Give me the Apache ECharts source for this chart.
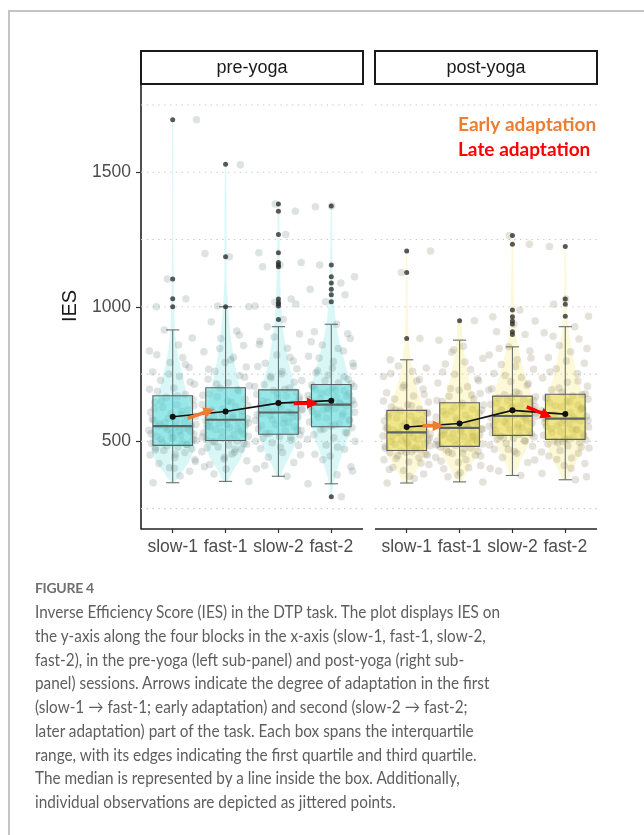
<!DOCTYPE html>
<html><head><meta charset="utf-8">
<script src="https://cdn.jsdelivr.net/npm/echarts@6/dist/echarts.min.js"></script>
<style>
html,body{margin:0;padding:0;background:#fff;width:644px;height:835px;overflow:hidden;}
#frame{position:absolute;left:8px;top:10px;width:636px;height:825px;border-left:2px solid #c4c4c4;border-top:2px solid #c4c4c4;box-sizing:border-box;}
#chart{position:absolute;left:0;top:0;width:644px;height:565px;}
#cap{position:absolute;left:35px;top:0;width:600px;height:835px;pointer-events:none;}
.capline{position:absolute;left:0;white-space:nowrap;font-family:Lato,"Open Sans",sans-serif;font-size:17.5px;line-height:24px;color:#5e5e5e;transform-origin:0 50%;}
.figlab{position:absolute;left:0;white-space:nowrap;font-family:Lato,"Open Sans",sans-serif;font-size:14px;line-height:20px;color:#6f6f6f;font-weight:bold;letter-spacing:-0.3px;}
</style></head>
<body>
<div id="frame"></div>
<div id="chart"></div>
<div id="cap"></div>
<script>
// ---------------- DATA ----------------
const blockLabels = ['slow-1', 'fast-1', 'slow-2', 'fast-2'];
const panelTitles = ['pre-yoga', 'post-yoga'];
const yTickValues = [500, 1000, 1500];
const gridValues = [250, 500, 750, 1000, 1250, 1500, 1750];

// box statistics: [lower whisker, Q1, median, Q3, upper whisker]
const preBoxes  = [[346, 485, 556, 669, 914], [351, 503, 580, 699, 1000], [370, 526, 607, 691, 926], [342, 554, 636, 711, 935]];
const postBoxes = [[345, 466, 533, 615, 803], [349, 481, 550, 643, 876], [373, 522, 594, 668, 851], [357, 507, 584, 675, 926]];

// group means (black line)
const preMeans  = [591, 611, 642, 651];
const postMeans = [553, 566, 615, 601];

// outliers (dark points)
const preOutliers = [
  [1695, 1103, 1030, 1000],
  [1530, 1186, 1000],
  [1382, 1355, 1269, 1201, 1165, 1155, 1149, 1029, 1017, 1010, 1003, 953],
  [1375, 1155, 1112, 1088, 1065, 1045, 1019, 294]
];
const postOutliers = [
  [1207, 1127, 882],
  [948],
  [1265, 1232, 988, 963, 947, 936, 907, 897],
  [1224, 1029, 1009, 965]
];

// individual observations (jittered points)
const preSlow1 = [346, 371, 389, 402, 417, 431, 440, 449, 458, 466, 471, 475, 479, 483,
  487, 492, 497, 503, 508, 514, 519, 526, 531, 537, 541, 546, 550, 554,
  559, 565, 572, 578, 586, 593, 599, 608, 617, 626, 636, 645, 655, 664,
  674, 686, 698, 712, 727, 741, 758, 774, 793, 811, 836, 858, 884, 914,
  1000, 1030, 1103, 1695,
  452, 468, 488, 495, 505, 511, 522, 528, 535, 543, 548, 557, 562, 569, 575,
  583, 590, 603, 612, 622, 633, 650, 668, 693, 720, 750, 785, 822, 400, 425];
const preFast1 = [351, 378, 397, 414, 428, 441, 452, 461, 470, 479, 486, 492, 497, 501,
  506, 512, 519, 525, 531, 538, 544, 550, 556, 561, 566, 571, 575, 579,
  584, 590, 597, 604, 612, 620, 628, 637, 646, 656, 666, 676, 687, 697,
  706, 718, 731, 745, 760, 776, 793, 812, 833, 856, 882, 910, 944, 1000,
  1003, 1186, 1198, 1528,
  433, 459, 476, 489, 499, 509, 516, 528, 535, 547, 553, 563, 569, 577, 587,
  593, 601, 616, 633, 650, 671, 692, 713, 738, 768, 803, 845, 895, 405, 470];
const preSlow2 = [370, 398, 421, 441, 458, 472, 484, 495, 504, 512, 518, 523,
  530, 538, 546, 554, 562, 570, 577, 584, 591, 597, 602, 606,
  612, 619, 626, 633, 640, 647, 654, 661, 668, 675, 682, 689,
  698, 711, 726, 742, 759, 778, 798, 821, 846, 872, 899, 926,
  953, 1003, 1010, 1017, 1029, 1149, 1155, 1165, 1201, 1269, 1355, 1382,
  410, 450, 478, 500, 515, 528, 542, 558, 566, 580, 588, 599, 609, 616, 623,
  636, 651, 664, 678, 693, 704, 719, 735, 750, 770, 790, 812, 860, 888, 540];
const preFast2 = [294, 342, 376, 405, 431, 452, 470, 486, 500, 513, 524, 534, 543, 550,
  557, 565, 572, 580, 587, 594, 601, 608, 615, 621, 627, 632, 635,
  640, 646, 652, 658, 664, 670, 676, 682, 688, 694, 699, 704, 709,
  718, 731, 746, 762, 779, 797, 816, 836, 858, 882, 907, 935,
  1019, 1045, 1065, 1088, 1112, 1155, 1375, 1372,
  390, 445, 478, 508, 530, 546, 561, 576, 590, 604, 612, 624, 638, 644, 655,
  667, 679, 690, 702, 713, 725, 740, 755, 772, 790, 810, 845, 870, 900, 620];
const postSlow1 = [345, 362, 378, 391, 403, 414, 423, 431, 439, 446, 452, 457, 461, 464,
  468, 473, 478, 483, 489, 494, 499, 504, 510, 515, 520, 525, 529, 532,
  536, 541, 546, 551, 557, 563, 569, 575, 581, 587, 594, 601, 607, 613,
  619, 627, 636, 646, 657, 668, 680, 694, 708, 724, 741, 760, 772, 780, 803,
  882, 1127, 1207,
  370, 395, 418, 436, 449, 459, 470, 481, 491, 502, 508, 518, 527, 534, 543,
  549, 560, 567, 578, 590, 604, 616, 632, 650, 674, 700, 730, 752, 485, 512];
const postFast1 = [349, 368, 384, 398, 410, 421, 431, 440, 448, 455, 456, 463, 469, 474, 478,
  484, 490, 495, 501, 507, 512, 518, 522, 523, 529, 534, 539, 543, 547,
  553, 558, 564, 570, 577, 583, 590, 597, 604, 611, 612, 619, 627, 635, 641,
  648, 657, 667, 678, 690, 703, 717, 732, 749, 767, 787, 808, 831, 853, 876,
  948,
  375, 402, 426, 445, 460, 472, 486, 497, 504, 515, 526, 536, 545, 556, 561,
  574, 586, 600, 615, 631, 652, 672, 696, 725, 758, 795, 840, 520, 488, 566];
const postSlow2 = [373, 399, 421, 440, 456, 470, 482, 492, 500, 507, 512, 516, 520,
  525, 531, 537, 543, 550, 556, 562, 568, 574, 580, 585, 589, 592,
  597, 602, 608, 614, 620, 626, 632, 638, 644, 650, 656, 661, 666,
  673, 683, 695, 708, 722, 737, 752, 768, 785, 803, 821, 836, 851,
  897, 907, 936, 947, 963, 988, 1232, 1265,
  390, 430, 462, 486, 503, 514, 527, 540, 552, 565, 576, 587, 595, 605, 617,
  629, 641, 652, 664, 678, 691, 715, 745, 778, 810, 845, 600, 560, 470, 630];
const postFast2 = [357, 380, 400, 417, 432, 445, 456, 466, 475, 483, 490, 496, 501, 505,
  510, 516, 522, 528, 535, 541, 547, 553, 559, 565, 570, 575, 579, 582,
  587, 593, 600, 607, 614, 621, 628, 635, 642, 649, 656, 662, 668, 673,
  681, 692, 705, 719, 735, 752, 770, 790, 811, 833, 856, 880, 903, 926,
  965, 1009, 1029, 1224,
  368, 410, 438, 460, 478, 494, 508, 519, 532, 544, 556, 567, 577, 590, 604,
  617, 632, 646, 660, 677, 698, 724, 758, 798, 845, 890, 545, 585, 625, 499];

// horizontal jitter offsets (in category units)
const jitterDx = [-0.37, 0.14, 0.32, -0.06, -0.26, 0.42, 0.04, -0.43, 0.23, -0.17,
  0.36, -0.32, 0.10, -0.11, 0.26, -0.40, 0.18, 0.44, -0.22, 0.01,
  -0.30, 0.40, -0.02, 0.12, -0.45, 0.30, -0.14, 0.06, 0.35, -0.25,
  0.22, -0.36, -0.08, 0.43, 0.16, -0.42, 0.29, -0.19, 0.08, -0.34,
  0.38, -0.12, 0.24, -0.29, 0.02, 0.41, -0.23, 0.13, -0.38, 0.31,
  -0.05, 0.19, -0.44, 0.11, 0.37, -0.16, -0.31, 0.25, -0.10, 0.45,
  0.05, -0.33, 0.27, -0.20, 0.39, -0.01, 0.15, -0.41, 0.34, -0.09,
  0.21, -0.27, 0.44, -0.15, 0.07, -0.39, 0.28, -0.03, 0.17, -0.35,
  0.40, -0.21, 0.09, -0.44, 0.33, -0.07, 0.24, -0.30, 0.03, 0.43];

// violin outlines: [IES, half width in category units]
const preViolins = [
  [[346,0.03],[380,0.15],[420,0.30],[470,0.40],[520,0.42],[570,0.38],[620,0.32],[680,0.26],[740,0.19],[800,0.12],[860,0.07],[920,0.04],[1000,0.03],[1100,0.02],[1300,0.01],[1695,0.01]],
  [[351,0.03],[390,0.14],[440,0.30],[500,0.40],[560,0.42],[620,0.36],[690,0.28],[760,0.20],[840,0.13],[920,0.08],[1000,0.05],[1100,0.02],[1200,0.02],[1530,0.01]],
  [[370,0.03],[410,0.12],[460,0.25],[520,0.37],[580,0.42],[640,0.40],[700,0.32],[770,0.22],[850,0.14],[930,0.08],[1010,0.05],[1150,0.03],[1270,0.02],[1382,0.01]],
  [[294,0.01],[342,0.04],[400,0.12],[460,0.22],[530,0.34],[600,0.41],[660,0.42],[720,0.36],[790,0.26],[860,0.17],[940,0.09],[1020,0.05],[1100,0.03],[1200,0.02],[1375,0.01]]
];
const postViolins = [
  [[345,0.04],[380,0.15],[420,0.28],[470,0.40],[520,0.43],[570,0.40],[620,0.32],[680,0.22],[740,0.14],[800,0.08],[880,0.04],[1000,0.02],[1207,0.01]],
  [[349,0.04],[390,0.15],[440,0.30],[490,0.40],[540,0.42],[600,0.37],[660,0.28],[730,0.18],[800,0.11],[870,0.06],[948,0.03]],
  [[373,0.03],[420,0.14],[480,0.28],[540,0.38],[600,0.42],[660,0.38],[720,0.28],[790,0.18],[860,0.10],[940,0.05],[1000,0.03],[1150,0.02],[1265,0.01]],
  [[357,0.04],[400,0.15],[450,0.28],[510,0.38],[570,0.42],[630,0.39],[690,0.30],[760,0.20],[840,0.12],[920,0.06],[1000,0.03],[1100,0.02],[1224,0.01]]
];

// adaptation arrows: [x start, IES start, x end, IES end, colour index] (x in block units within a panel)
const preArrows  = [[1.28, 585, 1.79, 620, 0], [3.29, 641, 3.75, 641, 1]];
const postArrows = [[1.30, 558, 1.70, 558, 0], [3.27, 628, 3.74, 589, 1]];
const legendTexts = ['Early adaptation', 'Late adaptation'];

const captionTitle = 'FIGURE 4';
const captionLines = [
  'Inverse Efficiency Score (IES) in the DTP task. The plot displays IES on',
  'the y-axis along the four blocks in the x-axis (slow-1, fast-1, slow-2,',
  'fast-2), in the pre-yoga (left sub-panel) and post-yoga (right sub-',
  'panel) sessions. Arrows indicate the degree of adaptation in the first',
  '(slow-1 \u2192 fast-1; early adaptation) and second (slow-2 \u2192 fast-2;',
  'later adaptation) part of the task. Each box spans the interquartile',
  'range, with its edges indicating the first quartile and third quartile.',
  'The median is represented by a line inside the box. Additionally,',
  'individual observations are depicted as jittered points.'
];

// ---------------- LAYOUT / STYLE ----------------
// One grid for both panels: panel k occupies x in [0.4 + off, 4.6 + off]
const PANEL_GAP = 0.227;
const panelOffsets = [0, 4.2 + PANEL_GAP];
const XMIN = 0.4, XMAX = 4.6 + panelOffsets[1], YMIN = 174, YMAX = 1828;
const xTickPositions = [];
panelOffsets.forEach(off => [1, 2, 3, 4].forEach(c => xTickPositions.push(c + off)));

const arrowColors = ['#ED7D31', '#FF0000'];
const panelStyle = [
  {violin: 'rgba(150,232,232,0.36)', box: 'rgba(95,218,218,0.55)', pt: 'rgba(80,108,104,0.24)'},
  {violin: 'rgba(250,236,150,0.38)', box: 'rgba(228,215,70,0.55)', pt: 'rgba(112,106,70,0.24)'}
];
const AX = 'Liberation Sans, Arial, sans-serif';

// segments: [x start, x end, IES, kind] kind 0 = dotted grid line, 1 = solid axis line
function segmentItem(params, api) {
  const a = api.coord([api.value(0), api.value(2)]), b = api.coord([api.value(1), api.value(2)]);
  const axis = api.value(3) === 1;
  return {type: 'line', silent: true, shape: {x1: a[0], y1: a[1], x2: b[0], y2: b[1]},
    style: axis ? {stroke: '#222', lineWidth: 1.6} : {stroke: '#c9c9c9', lineWidth: 1.2, lineDash: [1.4, 4.4]}};
}
function violinItem(profiles, fill) {
  return function (params, api) {
    const cx = api.value(0);
    const prof = profiles[params.dataIndex];
    const pts = [];
    for (const [y, w] of prof) pts.push(api.coord([cx + w, y]));
    for (let i = prof.length - 1; i >= 0; i--) pts.push(api.coord([cx - prof[i][1], prof[i][0]]));
    return {type: 'polygon', silent: true, shape: {points: pts, smooth: 0.35}, style: {fill: fill}};
  };
}
function whiskerItem(params, api) {
  const x = api.value(0), lo = api.value(1), hi = api.value(5);
  const cw = 0.125;
  const p1 = api.coord([x, lo]), p2 = api.coord([x, hi]);
  const c1 = api.coord([x - cw, lo]), c2 = api.coord([x + cw, lo]);
  const c3 = api.coord([x - cw, hi]), c4 = api.coord([x + cw, hi]);
  const st = {stroke: '#66706f', lineWidth: 1.1};
  return {type: 'group', children: [
    {type: 'line', shape: {x1: p1[0], y1: p1[1], x2: p2[0], y2: p2[1]}, style: st},
    {type: 'line', shape: {x1: c1[0], y1: c1[1], x2: c2[0], y2: c2[1]}, style: st},
    {type: 'line', shape: {x1: c3[0], y1: c3[1], x2: c4[0], y2: c4[1]}, style: st}
  ]};
}
function boxItem(fill) {
  return function (params, api) {
    const x = api.value(0), q1 = api.value(2), med = api.value(3), q3 = api.value(4);
    const hw = 0.375;
    const a = api.coord([x - hw, q3]), b = api.coord([x + hw, q1]);
    const m1 = api.coord([x - hw, med]), m2 = api.coord([x + hw, med]);
    return {type: 'group', children: [
      {type: 'rect', shape: {x: a[0], y: a[1], width: b[0] - a[0], height: b[1] - a[1]},
        style: {fill: fill, stroke: '#5a5f5f', lineWidth: 1.1}},
      {type: 'line', shape: {x1: m1[0], y1: m1[1], x2: m2[0], y2: m2[1]},
        style: {stroke: '#5b6464', lineWidth: 2.2}}
    ]};
  };
}
function arrowItem(params, api) {
  const p1 = api.coord([api.value(0), api.value(1)]);
  const p2 = api.coord([api.value(2), api.value(3)]);
  const color = arrowColors[api.value(4)];
  const dx = p2[0] - p1[0], dy = p2[1] - p1[1], L = Math.hypot(dx, dy);
  const ux = dx / L, uy = dy / L, head = 11, hwid = 5.5;
  const base = [p2[0] - ux * head, p2[1] - uy * head];
  const l = [base[0] - uy * hwid, base[1] + ux * hwid], r = [base[0] + uy * hwid, base[1] - ux * hwid];
  return {type: 'group', children: [
    {type: 'line', shape: {x1: p1[0], y1: p1[1], x2: base[0] + ux, y2: base[1] + uy}, style: {stroke: color, lineWidth: 3.6}},
    {type: 'polygon', shape: {points: [p2, l, r]}, style: {fill: color}}
  ]};
}

const panels = [
  {boxes: preBoxes, means: preMeans, outliers: preOutliers, obs: [preSlow1, preFast1, preSlow2, preFast2], violins: preViolins, arrows: preArrows},
  {boxes: postBoxes, means: postMeans, outliers: postOutliers, obs: [postSlow1, postFast1, postSlow2, postFast2], violins: postViolins, arrows: postArrows}
];

const series = [];
panels.forEach((p, k) => {
  const st = panelStyle[k];
  const off = panelOffsets[k];
  const segs = gridValues.map(v => [XMIN + off, 4.6 + off, v, 0]);
  segs.push([XMIN + off, 4.6 + off, YMIN, 1]);
  series.push({type: 'custom', renderItem: segmentItem, data: segs, z: 1, silent: true, clip: false});
  series.push({type: 'custom', renderItem: violinItem(p.violins, st.violin), data: [1, 2, 3, 4].map(v => [v + off]), z: 2, silent: true});
  series.push({type: 'custom', renderItem: whiskerItem, data: p.boxes.map((b, i) => [i + 1 + off].concat(b)), z: 3, silent: true});
  const pts = [];
  p.obs.forEach((ys, g) => ys.forEach((y, i) => pts.push([g + 1 + off + jitterDx[(i + g * 17) % jitterDx.length], y])));
  series.push({type: 'scatter', data: pts, symbolSize: 7.5, itemStyle: {color: st.pt}, z: 4, silent: true});
  series.push({type: 'custom', renderItem: boxItem(st.box), data: p.boxes.map((b, i) => [i + 1 + off].concat(b)), z: 5, silent: true});
  const outs = [];
  p.outliers.forEach((ys, g) => ys.forEach(y => outs.push([g + 1 + off, y])));
  series.push({type: 'scatter', data: outs, symbolSize: 5, itemStyle: {color: '#2e2e2e'}, z: 6, silent: true});
  series.push({type: 'line', data: p.means.map((m, i) => [i + 1 + off, m]), symbol: 'circle', symbolSize: 6,
    lineStyle: {color: '#111', width: 1.6}, itemStyle: {color: '#111'}, z: 7, silent: true});
  series.push({type: 'custom', renderItem: arrowItem, data: p.arrows.map(a => [a[0] + off, a[1], a[2] + off, a[3], a[4]]), z: 8, silent: true});
});

const option = {
  animation: false,
  grid: {left: 141, top: 84, width: 456, height: 445},
  xAxis: {
    type: 'value', min: XMIN, max: XMAX,
    axisLine: {show: false, onZero: false},
    axisTick: {show: true, customValues: xTickPositions, length: 4, lineStyle: {color: '#333', width: 1.2}},
    axisLabel: {show: true, customValues: xTickPositions,
      formatter: v => blockLabels[xTickPositions.findIndex(t => Math.abs(t - v) < 0.01) % 4],
      fontFamily: AX, fontSize: 17.5, color: '#4d4d4d', margin: 9},
    splitLine: {show: false}
  },
  yAxis: {
    type: 'value', min: YMIN, max: YMAX,
    axisLine: {show: true, onZero: false, lineStyle: {color: '#222', width: 1.6}},
    axisTick: {show: true, customValues: yTickValues, length: 5, lineStyle: {color: '#333', width: 1.2}},
    axisLabel: {show: true, customValues: yTickValues, formatter: v => String(v), fontFamily: AX, fontSize: 17.5, color: '#4d4d4d', margin: 10},
    splitLine: {show: false}
  },
  graphic: [
    {type: 'rect', shape: {x: 141, y: 51, width: 222, height: 33}, style: {fill: '#fff', stroke: '#1a1a1a', lineWidth: 2}, z: 10},
    {type: 'rect', shape: {x: 375, y: 51, width: 222, height: 33}, style: {fill: '#fff', stroke: '#1a1a1a', lineWidth: 2}, z: 10},
    {type: 'text', x: 252, y: 68, style: {text: panelTitles[0], font: '18px ' + AX, fill: '#1a1a1a', textAlign: 'center', textVerticalAlign: 'middle'}, z: 11},
    {type: 'text', x: 486, y: 68, style: {text: panelTitles[1], font: '18px ' + AX, fill: '#1a1a1a', textAlign: 'center', textVerticalAlign: 'middle'}, z: 11},
    {type: 'text', x: 70, y: 306, rotation: Math.PI / 2, style: {text: 'IES', font: '20px ' + AX, fill: '#1a1a1a', textAlign: 'center', textVerticalAlign: 'middle'}, z: 11},
    {type: 'text', x: 458, y: 125, style: {text: legendTexts[0], font: 'bold 19px Lato, sans-serif', fill: arrowColors[0], textAlign: 'left', textVerticalAlign: 'middle'}, z: 11},
    {type: 'text', x: 458, y: 150, style: {text: legendTexts[1], font: 'bold 19px Lato, sans-serif', fill: arrowColors[1], textAlign: 'left', textVerticalAlign: 'middle'}, z: 11}
  ],
  series: series
};

const chart = echarts.init(document.getElementById('chart'), null, {renderer: 'canvas'});
chart.setOption(option);

// caption
const cap = document.getElementById('cap');
const t = document.createElement('div');
t.className = 'figlab'; t.textContent = captionTitle; t.style.top = (588 - 10) + 'px';
cap.appendChild(t);
const lineEls = captionLines.map((s, i) => {
  const d = document.createElement('div');
  d.className = 'capline'; d.textContent = s; d.style.top = (612.3 + 23.7 * i - 12) + 'px';
  cap.appendChild(d); return d;
});
const w0 = lineEls[0].getBoundingClientRect().width;
const sx = 465 / w0;
lineEls.forEach(d => d.style.transform = 'scaleX(' + sx.toFixed(4) + ')');
</script>
</body></html>
